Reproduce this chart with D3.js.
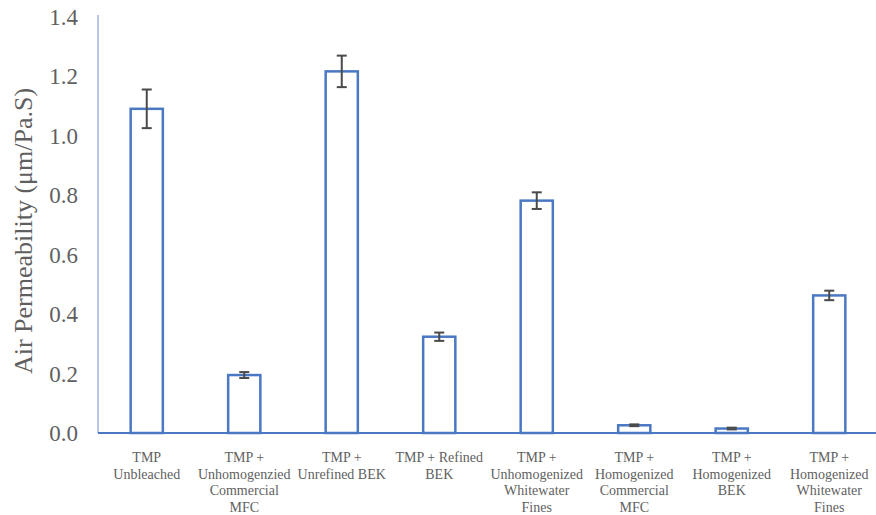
<!DOCTYPE html>
<html>
<head>
<meta charset="utf-8">
<script src="https://cdn.jsdelivr.net/npm/d3@7"></script>
<style>
  body { margin: 0; background: #fff; }
</style>
</head>
<body>
<div id="chart"></div>
<script>
// categories, each as the lines of its tick label
var categories = [
    ["TMP", "Unbleached"],
    ["TMP +", "Unhomogenzied", "Commercial", "MFC"],
    ["TMP +", "Unrefined BEK"],
    ["TMP + Refined", "BEK"],
    ["TMP +", "Unhomogenized", "Whitewater", "Fines"],
    ["TMP +", "Homogenized", "Commercial", "MFC"],
    ["TMP +", "Homogenized", "BEK"],
    ["TMP +", "Homogenized", "Whitewater", "Fines"]
];
var values = [1.091, 0.195, 1.217, 0.324, 0.782, 0.026, 0.015, 0.463];
var errors = [0.065, 0.010, 0.053, 0.014, 0.028, 0.003, 0.003, 0.016];
var yTicks = [0, 0.2, 0.4, 0.6, 0.8, 1.0, 1.2, 1.4];

var width = 876, height = 515;
var margin = {top: 17, right: 0, bottom: 82, left: 98};

var svg = d3.select("#chart").append("svg")
    .attr("width", width)
    .attr("height", height)
    .attr("font-family", "Liberation Serif")
    .attr("fill", "#5f5f5f");

var x = d3.scaleBand()
    .domain(d3.range(categories.length))
    .range([margin.left, 878])
    .paddingInner(0.67)
    .paddingOuter(0.335);

var y = d3.scaleLinear()
    .domain([0, 1.4])
    .range([height - margin.bottom, margin.top]);

// y axis line and labels
svg.append("line")
    .attr("x1", margin.left).attr("x2", margin.left)
    .attr("y1", y(1.4) - 2).attr("y2", y(0))
    .style("stroke", "#9fb6df")
    .style("stroke-width", 1.5);

svg.selectAll(".ytick")
    .data(yTicks)
    .enter().append("text")
    .attr("class", "ytick")
    .attr("x", 78)
    .attr("y", function(d) { return y(d); })
    .attr("dy", "0.35em")
    .attr("text-anchor", "end")
    .style("font-size", "23px")
    .text(function(d) { return d.toFixed(1); });

svg.append("text")
    .attr("transform", "translate(32,231) rotate(-90)")
    .attr("text-anchor", "middle")
    .style("font-size", "26px")
    .text("Air Permeability (\u03bcm/Pa.S)");

// bars
svg.selectAll(".bar")
    .data(values)
    .enter().append("rect")
    .attr("class", "bar")
    .attr("x", function(d, i) { return x(i); })
    .attr("width", x.bandwidth())
    .attr("y", function(d) { return y(d); })
    .attr("height", function(d) { return y(0) - y(d); })
    .style("fill", "#fff")
    .style("stroke", "#4a78c2")
    .style("stroke-width", 2.5);

// x axis line
svg.append("line")
    .attr("x1", margin.left).attr("x2", width)
    .attr("y1", y(0)).attr("y2", y(0))
    .style("stroke", "#4a78c2")
    .style("stroke-width", 2);

// error bars
var cap = 5;
var err = svg.selectAll(".err")
    .data(values)
    .enter().append("g")
    .attr("class", "err")
    .style("stroke", "#4a4a4a")
    .style("stroke-width", 2);

err.append("line")
    .attr("x1", function(d, i) { return x(i) + x.bandwidth() / 2; })
    .attr("x2", function(d, i) { return x(i) + x.bandwidth() / 2; })
    .attr("y1", function(d, i) { return y(d + errors[i]); })
    .attr("y2", function(d, i) { return y(d - errors[i]); });

err.append("line")
    .attr("x1", function(d, i) { return x(i) + x.bandwidth() / 2 - cap; })
    .attr("x2", function(d, i) { return x(i) + x.bandwidth() / 2 + cap; })
    .attr("y1", function(d, i) { return y(d + errors[i]); })
    .attr("y2", function(d, i) { return y(d + errors[i]); });

err.append("line")
    .attr("x1", function(d, i) { return x(i) + x.bandwidth() / 2 - cap; })
    .attr("x2", function(d, i) { return x(i) + x.bandwidth() / 2 + cap; })
    .attr("y1", function(d, i) { return y(d - errors[i]); })
    .attr("y2", function(d, i) { return y(d - errors[i]); });

// category labels
var labels = svg.selectAll(".xlabel")
    .data(categories)
    .enter().append("text")
    .attr("class", "xlabel")
    .attr("text-anchor", "middle")
    .style("font-size", "14px");

labels.selectAll("tspan")
    .data(function(d, i) {
        return d.map(function(line) { return {line: line, i: i}; });
    })
    .enter().append("tspan")
    .attr("x", function(d) { return x(d.i) + x.bandwidth() / 2; })
    .attr("y", function(d, j) { return 462 + j * 16.6; })
    .text(function(d) { return d.line; });
</script>
</body>
</html>
